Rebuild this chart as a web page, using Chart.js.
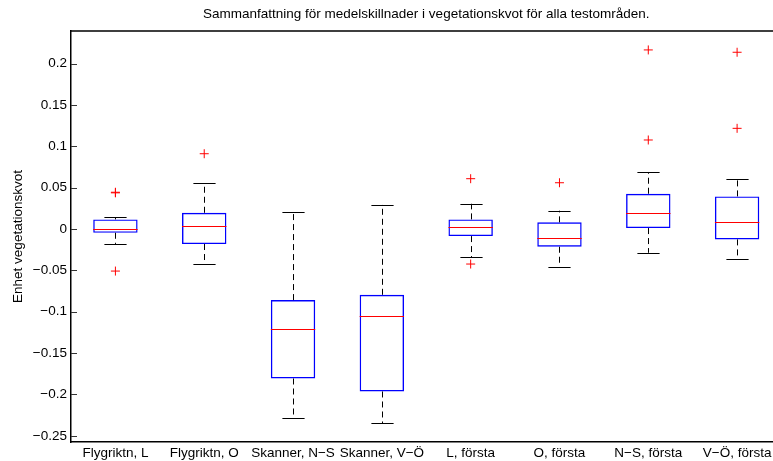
<!DOCTYPE html>
<html>
<head>
<meta charset="utf-8">
<script src="https://cdn.jsdelivr.net/npm/chart.js@4"></script>
<style>
  html, body { margin: 0; padding: 0; background: #fff; overflow: hidden; }
  #wrap { width: 790px; height: 461px; }
</style>
</head>
<body>
<div id="wrap"><canvas id="c" width="790" height="461"></canvas></div>
<script>
// Test areas
const categories = ['Flygriktn, L', 'Flygriktn, O', 'Skanner, N\u2212S', 'Skanner, V\u2212\u00d6',
                    'L, f\u00f6rsta', 'O, f\u00f6rsta', 'N\u2212S, f\u00f6rsta', 'V\u2212\u00d6, f\u00f6rsta'];

// Five-number summaries per test area
const upperWhisker = [0.0141, 0.0553, 0.0202, 0.0294, 0.0306, 0.0222, 0.0690, 0.0605];
const q3           = [0.0117, 0.0197, -0.0859, -0.0795, 0.0117, 0.0081, 0.0427, 0.0395];
const medians      = [0.0004, 0.0036, -0.1214, -0.1053, 0.0020, -0.0113, 0.0190, 0.0085];
const q1           = [-0.0045, -0.0181, -0.1807, -0.1964, -0.0085, -0.0214, 0.0012, -0.0125];
const lowerWhisker = [-0.0180, -0.0423, -0.2290, -0.2351, -0.0339, -0.0456, -0.0287, -0.0363];

// Outliers per test area
const outliers = [
  [0.0438, 0.0445, -0.0508],
  [0.0911],
  [],
  [],
  [0.0609, -0.0423],
  [0.0560],
  [0.1077, 0.2166],
  [0.1218, 0.2138]
];

// Y axis
const yTicks = [-0.25, -0.2, -0.15, -0.1, -0.05, 0, 0.05, 0.1, 0.15, 0.2];
const yMin = -0.2575;
const yMax = 0.2395;

const FONT = "'Liberation Sans', Arial, Helvetica, sans-serif";

function fmtTick(v) {
  const s = String(Number(v.toFixed(3)));
  return s.replace('-', '\u2212');
}

const outlierPoints = [];
outliers.forEach((list, i) => list.forEach(v => outlierPoints.push({ x: categories[i], y: v })));

// Whiskers, caps, medians, inward ticks and the top/right frame
const boxExtras = {
  id: 'boxExtras',
  afterDatasetsDraw(chart) {
    const { ctx, chartArea: a, scales: { x, y } } = chart;
    const step = x.getPixelForValue(1) - x.getPixelForValue(0);
    const capHalf = step * 0.125;
    const boxHalf = step * 0.25;
    ctx.save();
    categories.forEach((c, i) => {
      const cx = Math.round(x.getPixelForValue(i)) + 0.5;
      const yUW = y.getPixelForValue(upperWhisker[i]);
      const yQ3 = y.getPixelForValue(q3[i]);
      const yQ1 = y.getPixelForValue(q1[i]);
      const yLW = y.getPixelForValue(lowerWhisker[i]);
      // dashed whiskers
      ctx.strokeStyle = '#000';
      ctx.lineWidth = 1;
      ctx.setLineDash([6, 4]);
      ctx.beginPath();
      ctx.moveTo(cx, yQ3); ctx.lineTo(cx, yUW);
      ctx.moveTo(cx, yQ1); ctx.lineTo(cx, yLW);
      ctx.stroke();
      ctx.setLineDash([]);
      // caps
      ctx.beginPath();
      ctx.moveTo(cx - capHalf, Math.round(yUW) + 0.5); ctx.lineTo(cx + capHalf, Math.round(yUW) + 0.5);
      ctx.moveTo(cx - capHalf, Math.round(yLW) + 0.5); ctx.lineTo(cx + capHalf, Math.round(yLW) + 0.5);
      ctx.stroke();
      // median
      const yMed = Math.round(y.getPixelForValue(medians[i])) + 0.5;
      ctx.strokeStyle = '#ff0000';
      ctx.beginPath();
      ctx.moveTo(x.getPixelForValue(i) - boxHalf, yMed);
      ctx.lineTo(x.getPixelForValue(i) + boxHalf, yMed);
      ctx.stroke();
    });
    // inward tick marks on the y axis
    ctx.strokeStyle = '#333';
    ctx.lineWidth = 1;
    ctx.beginPath();
    y.ticks.forEach(t => {
      const py = Math.round(y.getPixelForValue(t.value)) + 0.5;
      ctx.moveTo(a.left, py); ctx.lineTo(a.left + 6, py);
      ctx.moveTo(a.right, py); ctx.lineTo(a.right - 6, py);
    });
    ctx.stroke();
    // top and right frame
    ctx.strokeStyle = '#000';
    ctx.lineWidth = 1.5;
    ctx.beginPath();
    ctx.moveTo(a.left, a.top); ctx.lineTo(a.right, a.top); ctx.lineTo(a.right, a.bottom);
    ctx.stroke();
    ctx.restore();
  }
};

new Chart(document.getElementById('c'), {
  type: 'bar',
  data: {
    labels: categories,
    datasets: [
      {
        type: 'bar',
        label: 'Box',
        data: q1.map((v, i) => [v, q3[i]]),
        backgroundColor: 'rgba(0,0,0,0)',
        borderColor: '#0000ff',
        borderWidth: 1.4,
        borderSkipped: false,
        categoryPercentage: 1,
        barPercentage: 0.5,
        inflateAmount: 0
      },
      {
        type: 'line',
        label: 'Outliers',
        data: outlierPoints,
        showLine: false,
        pointStyle: 'cross',
        pointRadius: 4.5,
        pointBorderWidth: 1,
        pointBorderColor: '#ff0000',
        pointBackgroundColor: '#ff0000'
      }
    ]
  },
  options: {
    responsive: false,
    animation: false,
    devicePixelRatio: 1,
    layout: { padding: { left: 0, right: 8.5, top: 0, bottom: 0 } },
    plugins: {
      legend: { display: false },
      tooltip: { enabled: false },
      title: {
        display: true,
        fullSize: false,
        text: 'Sammanfattning f\u00f6r medelskillnader i vegetationskvot f\u00f6r alla testomr\u00e5den.',
        color: '#000',
        font: { family: FONT, size: 13.5, weight: 'normal' },
        padding: { top: 6, bottom: 8.8 }
      }
    },
    scales: {
      x: {
        type: 'category',
        offset: true,
        grid: { display: false, drawTicks: false },
        border: { display: true, color: '#000', width: 1.5 },
        ticks: { color: '#000', font: { family: FONT, size: 13.5 }, padding: 3, maxRotation: 0, autoSkip: false },
        afterFit(s) { s.height = 19; }
      },
      y: {
        type: 'linear',
        min: yMin,
        max: yMax,
        grid: { display: false, drawTicks: false },
        border: { display: true, color: '#000', width: 1.5 },
        afterBuildTicks(s) { s.ticks = yTicks.map(v => ({ value: v })); },
        ticks: { color: '#000', font: { family: FONT, size: 13.5 }, padding: 4, callback: v => fmtTick(v) },
        title: {
          display: true,
          text: 'Enhet vegetationskvot',
          color: '#000',
          font: { family: FONT, size: 13.5 },
          padding: { top: 10, bottom: 0 }
        },
        afterFit(s) { s.width = 71; }
      }
    }
  },
  plugins: [boxExtras]
});
</script>
</body>
</html>
